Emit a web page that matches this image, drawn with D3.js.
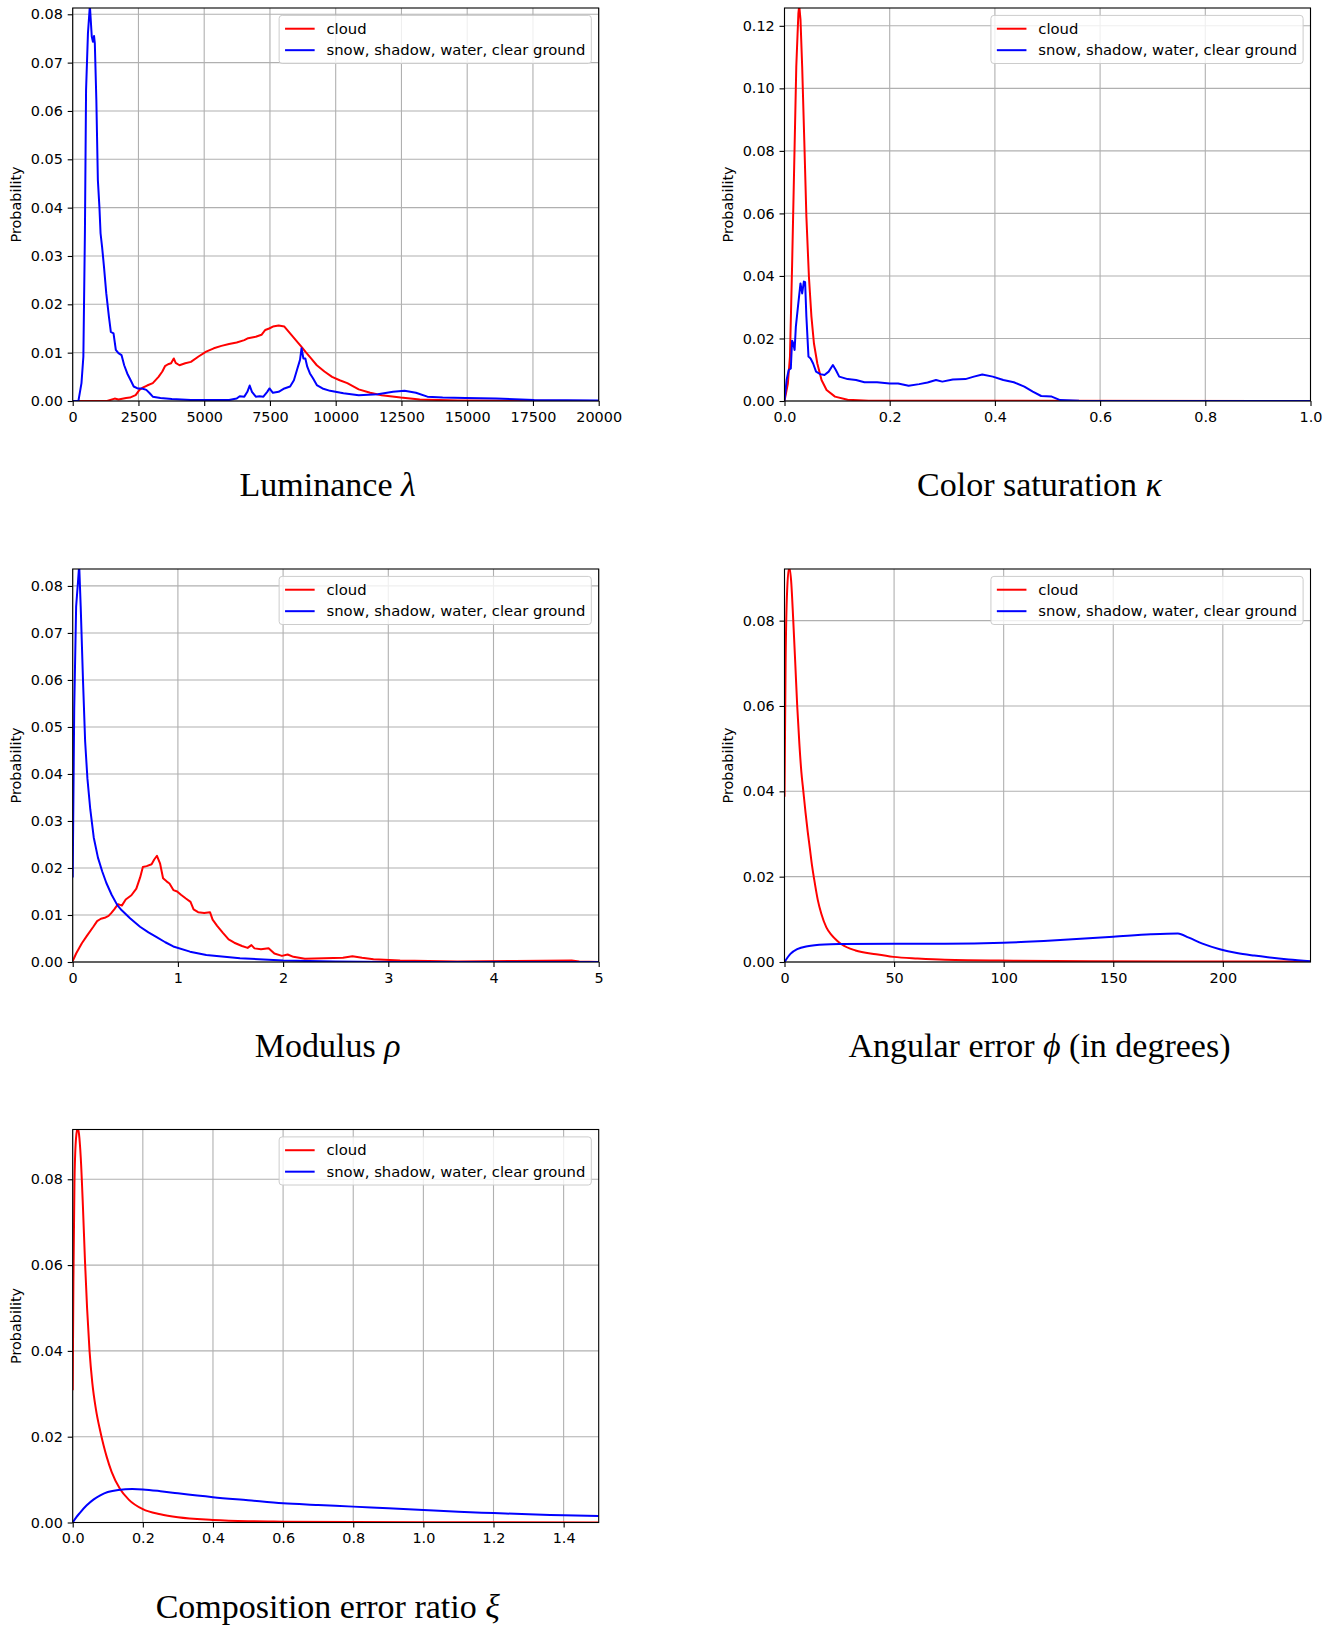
<!DOCTYPE html>
<html>
<head>
<meta charset="utf-8">
<script src="https://cdn.jsdelivr.net/npm/d3@7"></script>
<style>
  body { margin: 0; background: #fff; }
  text { font-family: "DejaVu Sans", sans-serif; }
</style>
</head>
<body>
<svg id="fig" width="1342" height="1625"></svg>
<script>
// ---- data: [x, probability] ----
var lumCloud = [[0,0],[1305,0],[1595,0.0005],[1740,0.0003],[2030,0.0006],[2175,0.0007],[2393,0.0012],[2538,0.0023],[2683,0.0028],[2828,0.0032],[3045,0.0037],[3263,0.005],[3408,0.0061],[3509,0.0072],[3625,0.0076],[3741,0.0078],[3843,0.0088],[3915,0.0079],[4060,0.0074],[4278,0.0078],[4495,0.0081],[4785,0.0092],[5075,0.0102],[5365,0.0109],[5655,0.0114],[5945,0.0118],[6235,0.0121],[6525,0.0126],[6671,0.013],[6961,0.0133],[7178,0.0137],[7323,0.0147],[7468,0.015],[7613,0.0154],[7831,0.0156],[8048,0.0154],[8266,0.014],[8483,0.0126],[8701,0.0112],[8846,0.0102],[9063,0.0088],[9281,0.0074],[9571,0.0061],[9861,0.005],[10151,0.0043],[10441,0.0037],[10876,0.0024],[11311,0.0017],[11746,0.0012],[12471,0.0007],[13196,0.0003],[14646,0.0001],[20000,0]];
var lumOther = [[0,0],[217,0],[334,0.0037],[406,0.0092],[464,0.0347],[508,0.0643],[580,0.0761],[653,0.0818],[725,0.0754],[769,0.0743],[812,0.0755],[841,0.074],[899,0.0623],[957,0.0457],[1015,0.0402],[1059,0.0347],[1117,0.0319],[1189,0.0278],[1276,0.0223],[1378,0.0174],[1450,0.0143],[1552,0.014],[1639,0.0106],[1740,0.0099],[1856,0.0095],[1958,0.0074],[2074,0.0057],[2204,0.0043],[2320,0.003],[2465,0.0026],[2639,0.0026],[2799,0.0023],[2929,0.0016],[3045,0.0009],[3335,0.0006],[3770,0.0004],[4495,0.0002],[5945,0.0002],[6235,0.0005],[6351,0.001],[6525,0.0009],[6641,0.0019],[6729,0.0032],[6816,0.0019],[6961,0.0009],[7106,0.001],[7251,0.0009],[7396,0.0019],[7483,0.0026],[7613,0.0017],[7831,0.0019],[8048,0.0026],[8266,0.003],[8411,0.0043],[8527,0.0064],[8643,0.0085],[8701,0.0109],[8773,0.0088],[8846,0.0088],[8918,0.0071],[9020,0.0057],[9136,0.0047],[9281,0.0033],[9498,0.0026],[9788,0.0021],[10296,0.0016],[10876,0.0012],[11601,0.0014],[12181,0.0019],[12616,0.0021],[13051,0.0017],[13486,0.0009],[14066,0.0007],[14936,0.0006],[16096,0.0005],[17546,0.0002],[20000,0.0001]];

var satCloud = [[0,0],[0.0064,0.0056],[0.0104,0.0142],[0.0144,0.043],[0.0184,0.075],[0.0224,0.107],[0.0264,0.124],[0.028,0.1265],[0.0304,0.122],[0.0336,0.107],[0.0376,0.0834],[0.0416,0.059],[0.0464,0.0398],[0.0512,0.027],[0.056,0.0184],[0.0624,0.012],[0.0704,0.0067],[0.08,0.0035],[0.096,0.0014],[0.12,0.0004],[0.16,0.0001],[1,0]];
var satOther = [[0,0],[0.004,0.0067],[0.008,0.0099],[0.012,0.0104],[0.0144,0.0193],[0.0168,0.0184],[0.0192,0.0163],[0.0216,0.0238],[0.0256,0.0302],[0.0304,0.0376],[0.0336,0.0344],[0.0368,0.0382],[0.0392,0.038],[0.0416,0.027],[0.0456,0.0142],[0.0496,0.0136],[0.0544,0.012],[0.06,0.0094],[0.068,0.0086],[0.076,0.0083],[0.084,0.0094],[0.092,0.0115],[0.0976,0.0099],[0.104,0.0078],[0.12,0.007],[0.136,0.0067],[0.152,0.006],[0.176,0.006],[0.2,0.0056],[0.216,0.0056],[0.236,0.0049],[0.256,0.0054],[0.272,0.0059],[0.288,0.0067],[0.3,0.0062],[0.32,0.0069],[0.344,0.007],[0.36,0.0078],[0.376,0.0085],[0.396,0.0078],[0.416,0.0067],[0.436,0.006],[0.456,0.0046],[0.472,0.003],[0.488,0.0016],[0.508,0.0014],[0.524,0.0003],[0.56,0.0001],[1,0]];

var modCloud = [[0,0.0002],[0.0326,0.0018],[0.087,0.004],[0.133,0.0055],[0.196,0.0075],[0.232,0.0087],[0.268,0.0092],[0.304,0.0094],[0.341,0.0098],[0.366,0.0104],[0.395,0.0112],[0.431,0.0123],[0.467,0.012],[0.504,0.0133],[0.558,0.0142],[0.605,0.0156],[0.641,0.018],[0.667,0.0202],[0.703,0.0204],[0.75,0.0208],[0.775,0.0218],[0.801,0.0226],[0.83,0.021],[0.859,0.0178],[0.895,0.0171],[0.92,0.0167],[0.957,0.0153],[0.993,0.015],[1.029,0.0143],[1.076,0.0135],[1.12,0.0128],[1.149,0.0112],[1.192,0.0106],[1.25,0.0104],[1.305,0.0106],[1.33,0.009],[1.373,0.0077],[1.428,0.0062],[1.482,0.0048],[1.536,0.0041],[1.609,0.0034],[1.663,0.003],[1.699,0.0036],[1.728,0.0029],[1.79,0.0027],[1.862,0.0029],[1.917,0.0018],[1.989,0.0013],[2.043,0.0016],[2.098,0.0011],[2.207,0.0007],[2.388,0.0008],[2.569,0.0009],[2.659,0.0012],[2.75,0.0009],[2.859,0.0006],[3.112,0.0003],[3.656,0.0001],[4.2,0.0002],[4.743,0.0003],[4.815,0.0001],[5,0]];
var modOther = [[0,0.018],[0.0145,0.054],[0.0326,0.0756],[0.0507,0.081],[0.0616,0.0845],[0.0761,0.0756],[0.0978,0.06],[0.118,0.047],[0.14,0.039],[0.167,0.0325],[0.2,0.0265],[0.24,0.0222],[0.28,0.0193],[0.32,0.0168],[0.37,0.0143],[0.424,0.0121],[0.466,0.011],[0.545,0.0093],[0.64,0.0075],[0.72,0.0063],[0.798,0.0053],[0.88,0.0042],[0.956,0.0033],[1.115,0.0022],[1.27,0.0015],[1.59,0.0008],[2.0,0.0003],[2.5,0.0001],[3,0],[5,0]];

var angCloud = [[0,0.0387],[0.5,0.07],[1.2,0.087],[2.1,0.0925],[3,0.0895],[4,0.08],[5,0.069],[5.8,0.06],[6.8,0.051],[7.7,0.0445],[8.6,0.04],[9.6,0.035],[10.6,0.0305],[11.6,0.0265],[12.5,0.0228],[13.5,0.0195],[15.2,0.0145],[16.8,0.0113],[19.1,0.0081],[21.5,0.0063],[24,0.005],[26.2,0.0041],[32.4,0.0027],[41.8,0.0018],[49.7,0.0012],[60.7,0.0008],[73.2,0.0005],[104.5,0.0003],[140,0.0002],[180,0.0001],[240,0.0001]];
var angOther = [[0,0],[2.7,0.0019],[5.8,0.003],[10.5,0.0037],[18.3,0.0041],[26.2,0.0042],[49.7,0.0043],[73.2,0.0043],[99.8,0.0045],[120.2,0.005],[150,0.0059],[167.2,0.0065],[179.5,0.0067],[184.5,0.0057],[190.7,0.0043],[198.6,0.003],[206.4,0.0021],[214.3,0.0015],[220.5,0.0011],[230,0.0006],[240,0.0002]];

var compCloud = [[0,0.0308],[0.002,0.056],[0.005,0.079],[0.009,0.089],[0.014,0.092],[0.018,0.0905],[0.023,0.085],[0.029,0.074],[0.035,0.061],[0.041,0.05],[0.048,0.04],[0.056,0.0325],[0.066,0.0265],[0.078,0.0215],[0.088,0.018],[0.097,0.0153],[0.111,0.0118],[0.135,0.0078],[0.159,0.0054],[0.2,0.0031],[0.25,0.0019],[0.3,0.0012],[0.4,0.0006],[0.5,0.0003],[0.6,0.0002],[0.8,0.0001],[1.0,0.00005],[1.5,0.00002]];
var compOther = [[0,0],[0.01,0.0012],[0.02,0.0022],[0.04,0.004],[0.06,0.0054],[0.08,0.0064],[0.1,0.0071],[0.13,0.0076],[0.17,0.0078],[0.2,0.0077],[0.25,0.0073],[0.3,0.0068],[0.4,0.0059],[0.5,0.0052],[0.6,0.0045],[0.7,0.0041],[0.8,0.0037],[0.9,0.0033],[1.0,0.0029],[1.1,0.0025],[1.2,0.0022],[1.3,0.0019],[1.4,0.0017],[1.5,0.0015]];

// ---- ticks ----
var lumXTicks = [0, 2500, 5000, 7500, 10000, 12500, 15000, 17500, 20000];
var satXTicks = [0, 0.2, 0.4, 0.6, 0.8, 1.0];
var modXTicks = [0, 1, 2, 3, 4, 5];
var angXTicks = [0, 50, 100, 150, 200];
var compXTicks = [0, 0.2, 0.4, 0.6, 0.8, 1.0, 1.2, 1.4];
var yTicksFine = [0, 0.01, 0.02, 0.03, 0.04, 0.05, 0.06, 0.07, 0.08];
var satYTicks = [0, 0.02, 0.04, 0.06, 0.08, 0.10, 0.12];
var yTicksCoarse = [0, 0.02, 0.04, 0.06, 0.08];

var seriesNames = ["cloud", "snow, shadow, water, clear ground"];
var seriesColors = ["#ff0000", "#0000ff"];

// ---- layout ----
const W = 526, H = 393;
const svg = d3.select("#fig");

var panels = [
  {left: 72.7, top: 8, xDom: [0, 20000], yDom: [0, 0.0813], xTicks: lumXTicks, yTicks: yTicksFine,
   xFmt: d3.format("d"), series: [lumCloud, lumOther], curve: d3.curveLinear,
   title: [["Luminance ", false], ["λ", true]]},
  {left: 784.5, top: 8, xDom: [0, 1], yDom: [0, 0.1257], xTicks: satXTicks, yTicks: satYTicks,
   xFmt: d3.format(".1f"), series: [satCloud, satOther], curve: d3.curveLinear,
   title: [["Color saturation ", false], ["κ", true]]},
  {left: 72.7, top: 569, xDom: [0, 5], yDom: [0, 0.0836], xTicks: modXTicks, yTicks: yTicksFine,
   xFmt: d3.format("d"), series: [modCloud, modOther], curve: d3.curveLinear,
   title: [["Modulus ", false], ["ρ", true]]},
  {left: 784.5, top: 569, xDom: [0, 240], yDom: [0, 0.0921], xTicks: angXTicks, yTicks: yTicksCoarse,
   xFmt: d3.format("d"), series: [angCloud, angOther], curve: d3.curveMonotoneX,
   title: [["Angular error ", false], ["ϕ", true], [" (in degrees)", false]]},
  {left: 72.7, top: 1129.5, xDom: [0, 1.5], yDom: [0, 0.0916], xTicks: compXTicks, yTicks: yTicksCoarse,
   xFmt: d3.format(".1f"), series: [compCloud, compOther], curve: d3.curveMonotoneX,
   title: [["Composition error ratio ", false], ["ξ", true]]}
];

panels.forEach(function(p, k) {
  var g = svg.append("g").attr("transform", "translate(" + p.left + "," + p.top + ")");
  var x = d3.scaleLinear().domain(p.xDom).range([0, W]);
  var y = d3.scaleLinear().domain(p.yDom).range([H, 0]);

  // grid
  g.append("g").selectAll("line").data(p.xTicks).enter().append("line")
    .attr("x1", d => x(d)).attr("x2", d => x(d)).attr("y1", 0).attr("y2", H)
    .attr("stroke", "#b0b0b0").attr("stroke-width", 1.1);
  g.append("g").selectAll("line").data(p.yTicks).enter().append("line")
    .attr("x1", 0).attr("x2", W).attr("y1", d => y(d)).attr("y2", d => y(d))
    .attr("stroke", "#b0b0b0").attr("stroke-width", 1.1);

  // curves
  g.append("clipPath").attr("id", "clip" + k)
    .append("rect").attr("width", W).attr("height", H);
  var line = d3.line().x(d => x(d[0])).y(d => y(d[1])).curve(p.curve);
  g.append("g").attr("clip-path", "url(#clip" + k + ")")
    .selectAll("path").data(p.series).enter().append("path")
    .attr("d", line)
    .attr("fill", "none")
    .attr("stroke", (d, i) => seriesColors[i])
    .attr("stroke-width", 2)
    .attr("stroke-linejoin", "round");

  // axes
  var xa = g.append("g").attr("transform", "translate(0," + H + ")")
    .call(d3.axisBottom(x).tickValues(p.xTicks).tickFormat(p.xFmt).tickSize(5).tickPadding(5.5));
  var ya = g.append("g")
    .call(d3.axisLeft(y).tickValues(p.yTicks).tickFormat(d3.format(".2f")).tickSize(5).tickPadding(4.8));
  [xa, ya].forEach(function(a) {
    a.select(".domain").remove();
    a.selectAll("line").attr("stroke", "#000").attr("stroke-width", 1.1);
    a.selectAll("text").attr("fill", "#000").style("font-size", "14.4px")
      .style("font-family", "'DejaVu Sans', sans-serif");
  });

  g.append("rect").attr("width", W).attr("height", H)
    .attr("fill", "none").attr("stroke", "#000").attr("stroke-width", 1.1);

  // y label
  g.append("text")
    .attr("transform", "translate(-52," + (H / 2) + ") rotate(-90)")
    .attr("text-anchor", "middle")
    .style("font-size", "14.4px")
    .text("Probability");

  // legend
  var fs = 14.8;
  var leg = g.append("g");
  var box = leg.append("rect")
    .attr("fill", "#fff").attr("fill-opacity", 0.8)
    .attr("stroke", "#cccccc").attr("stroke-width", 1)
    .attr("rx", 3);
  var maxLen = 0;
  seriesNames.forEach(function(name, i) {
    var cy = 0.4 * fs + fs / 2 + i * 1.45 * fs;
    leg.append("line")
      .attr("x1", 0.4 * fs).attr("x2", 0.4 * fs + 2 * fs)
      .attr("y1", cy).attr("y2", cy)
      .attr("stroke", seriesColors[i]).attr("stroke-width", 2);
    var t = leg.append("text")
      .attr("x", 0.4 * fs + 2.8 * fs).attr("y", cy + 5)
      .style("font-size", fs + "px")
      .text(name);
    maxLen = Math.max(maxLen, t.node().getComputedTextLength());
  });
  var bw = 0.4 * fs * 2 + 2.8 * fs + maxLen;
  var bh = 0.8 * fs + 2 * fs + 0.45 * fs;
  box.attr("width", bw).attr("height", bh);
  leg.attr("transform", "translate(" + (W - 0.5 * fs - bw) + "," + (0.5 * fs) + ")");

  // title below
  var tt = g.append("text")
    .attr("x", W / 2 - 8).attr("y", H + 95)
    .attr("text-anchor", "middle")
    .style("font-family", "'Liberation Serif', 'DejaVu Serif', serif")
    .style("font-size", "34px")
    .attr("fill", "#000");
  p.title.forEach(function(part) {
    tt.append("tspan").attr("font-style", part[1] ? "italic" : "normal").text(part[0]);
  });
});
</script>
</body>
</html>
